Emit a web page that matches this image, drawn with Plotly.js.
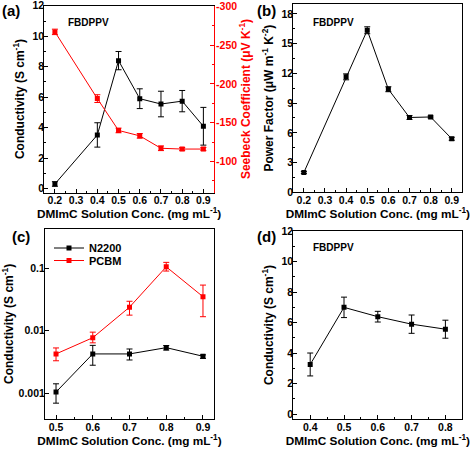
<!DOCTYPE html>
<html><head><meta charset="utf-8">
<script src="https://cdn.plot.ly/plotly-3.0.1.min.js"></script>
<style>html,body{margin:0;padding:0;background:#fff}#chart{width:474px;height:449px}</style>
</head><body><div id="chart"></div>
<script>
const concA = [0.2,0.4,0.5,0.6,0.7,0.8,0.9];
const condA = [0.3,3.52,8.4,5.9,5.55,5.74,4.09];
const condAErr = [0.15,0.8,0.6,0.65,0.84,0.7,1.24];
const seebA = [-267,-181,-140,-133,-117,-116,-116];
const seebAErr = [3.5,5,3,3,3,2,2];
const seebTicks = [-300,-250,-200,-150,-100];
const seebTickText = ['-300','-250','-200','-150','-100'];
const pfB = [2.0,11.65,16.35,10.4,7.55,7.6,5.4];
const pfBErr = [0.1,0.3,0.35,0.25,0.2,0.1,0.15];
const concC = [0.5,0.6,0.7,0.8,0.9];
const n2200 = [0.00104,0.00425,0.00425,0.00536,0.0039];
const n2200Hi = [0.00141,0.00583,0.0051,0.0058,0.0041];
const n2200Lo = [0.00069,0.0028,0.0034,0.0049,0.0036];
const pcbm = [0.00425,0.00773,0.0239,0.106,0.0352];
const pcbmHi = [0.0053,0.0095,0.0297,0.125,0.054];
const pcbmLo = [0.0033,0.0064,0.0178,0.0907,0.0168];
const concD = [0.4,0.5,0.6,0.7,0.8];
const condD = [3.26,7.0,6.39,5.9,5.57];
const condDErr = [0.75,0.67,0.35,0.6,0.59];
const logTicks = [0.001,0.01,0.1];
const logTickText = ['0.001','0.01','0.1'];

const FF = 'Liberation Sans, Arial, sans-serif';
const RED = '#ff0000';
const BLK = '#000000';
const W = 474, H = 449;
const px = (a,b) => [a/W, b/W];
const py = (top,bot) => [1-bot/H, 1-top/H];

function ser(x,y,err,color,xa,ya,name,legend,errMinus){
  const e = {type:'data', array:err, color:color, thickness:1, width:3, visible:true};
  if (errMinus) { e.symmetric=false; e.arrayminus=errMinus; }
  const t = {x:x, y:y, type:'scatter', mode:'lines+markers', name:name||'', showlegend:!!legend,
    xaxis:xa, yaxis:ya, line:{color:color,width:1}, marker:{symbol:'square',size:5,color:color},
    error_y:e};
  if (legend) t.legend = legend;
  return t;
}
const diff = (a,b) => a.map((v,i)=>v-b[i]);

const traces = [
  ser(concA,condA,condAErr,BLK,'x','y'),
  ser(concA,seebA,seebAErr,RED,'x','y5'),
  ser(concA,pfB,pfBErr,BLK,'x2','y2'),
  ser(concC,n2200,diff(n2200Hi,n2200),BLK,'x3','y3','N2200','legend',diff(n2200,n2200Lo)),
  ser(concC,pcbm,diff(pcbmHi,pcbm),RED,'x3','y3','PCBM','legend2',diff(pcbm,pcbmLo)),
  ser(concD,condD,condDErr,BLK,'x4','y4')
];

const tf = {family:FF,size:10.5,color:BLK,weight:'bold'};
const titF = {family:FF,size:12,color:BLK,weight:'bold'};
const xTitF = {family:FF,size:11.8,color:BLK,weight:'bold'};
const xTitle = 'DMImC Solution Conc. (mg mL<sup>-1</sup>)';
function xax(dom, anchor, range, extra){
  return Object.assign({domain:dom, anchor:anchor, range:range, dtick:0.1, tick0:0.2,
    ticks:'inside', ticklen:4, tickwidth:1, tickcolor:BLK, showline:true, linecolor:BLK, linewidth:1,
    mirror:true, showgrid:false, zeroline:false, tickfont:tf, ticklabelstandoff:-2, ticklabeloverflow:'allow',
    minor:{dtick:0.05, ticks:'inside', ticklen:2, tickcolor:BLK},
    title:{text:xTitle, font:xTitF, standoff:3}}, extra||{});
}
function yax(dom, anchor, range, dtick, title, extra){
  return Object.assign({domain:dom, anchor:anchor, range:range, dtick:dtick, tick0:0,
    ticks:'inside', ticklen:4, tickwidth:1, tickcolor:BLK, showline:true, linecolor:BLK, linewidth:1,
    mirror:true, showgrid:false, zeroline:false, tickfont:tf, ticklabelstandoff:-3, ticklabeloverflow:'allow',
    minor:{dtick:dtick/2, ticks:'inside', ticklen:2, tickcolor:BLK},
    title:{text:title, font:titF, standoff:5}}, extra||{});
}
const aX = px(44.3,214), bX = px(293.3,462.3), cX = px(45,214), dX = px(293.3,462.3);
const aY = py(5.5,192.5), bY = py(4,192.3), cY = py(228.5,419.3), dY = py(230.7,419.3);

const condTitle = 'Conductivity (S cm<sup>-1</sup>)';
const legFont = {family:FF,size:11,color:BLK,weight:'bold'};
const panelF = {family:FF,size:15,color:BLK,weight:'bold'};
const annF = {family:FF,size:10,color:BLK,weight:'bold'};
const layout = {
  width:W, height:H, margin:{l:0,r:0,t:0,b:0}, paper_bgcolor:'#fff', plot_bgcolor:'#fff',
  showlegend:true,
  legend:{x:49/W, y:1-248/H, xanchor:'left', yanchor:'middle', bgcolor:'rgba(0,0,0,0)',
    font:legFont, itemwidth:30, borderwidth:0},
  legend2:{x:49/W, y:1-260.5/H, xanchor:'left', yanchor:'middle', bgcolor:'rgba(0,0,0,0)',
    font:legFont, itemwidth:30, borderwidth:0},
  xaxis: xax(aX,'y',[0.15,0.95]),
  yaxis: yax(aY,'x',[-0.26,12.02],2,condTitle,{mirror:false}),
  yaxis5: yax(aY,'x',[-60,-301],50,'',{
    overlaying:'y', side:'right', linecolor:RED, tickcolor:RED, mirror:false,
    tickvals:seebTicks, ticktext:seebTickText, ticklabelstandoff:-1,
    tickfont:Object.assign({},tf,{color:RED}),
    minor:{dtick:25, tick0:0, ticks:'inside', ticklen:2, tickcolor:RED},
    title:{text:'Seebeck Coefficient (μV K<sup>-1</sup>)', font:Object.assign({},titF,{color:RED}), standoff:3}}),
  xaxis2: xax(bX,'y2',[0.15,0.95]),
  yaxis2: yax(bY,'x2',[0,19],3,'Power Factor (μW m<sup>-1</sup> K<sup>-2</sup>)'),
  xaxis3: xax(cX,'y3',[0.47,0.93],{tick0:0.5}),
  yaxis3: yax(cY,'x3',[-3.42,-0.36],null,condTitle,{type:'log', tickvals:logTicks, ticktext:logTickText,
    minor:{ticks:'', showgrid:false}}),
  xaxis4: xax(dX,'y4',[0.35,0.85],{tick0:0.4}),
  yaxis4: yax(dY,'x4',[-0.33,12.02],2,condTitle),
  annotations:[
    {text:'(a)', x:0, y:1, xref:'paper', yref:'paper', xanchor:'left', yanchor:'top', showarrow:false, font:panelF},
    {text:'(b)', x:255/W, y:1, xref:'paper', yref:'paper', xanchor:'left', yanchor:'top', showarrow:false, font:panelF},
    {text:'(c)', x:10/W, y:1-226/H, xref:'paper', yref:'paper', xanchor:'left', yanchor:'top', showarrow:false, font:panelF},
    {text:'(d)', x:255/W, y:1-226/H, xref:'paper', yref:'paper', xanchor:'left', yanchor:'top', showarrow:false, font:panelF},
    {text:'FBDPPV', x:66/W, y:1-22/H, xref:'paper', yref:'paper', xanchor:'left', yanchor:'middle', showarrow:false, font:annF},
    {text:'FBDPPV', x:310.5/W, y:1-22/H, xref:'paper', yref:'paper', xanchor:'left', yanchor:'middle', showarrow:false, font:annF},
    {text:'FBDPPV', x:310.5/W, y:1-247/H, xref:'paper', yref:'paper', xanchor:'left', yanchor:'middle', showarrow:false, font:annF}
  ]
};
Plotly.newPlot('chart', traces, layout, {staticPlot:true, displayModeBar:false});
</script></body></html>
